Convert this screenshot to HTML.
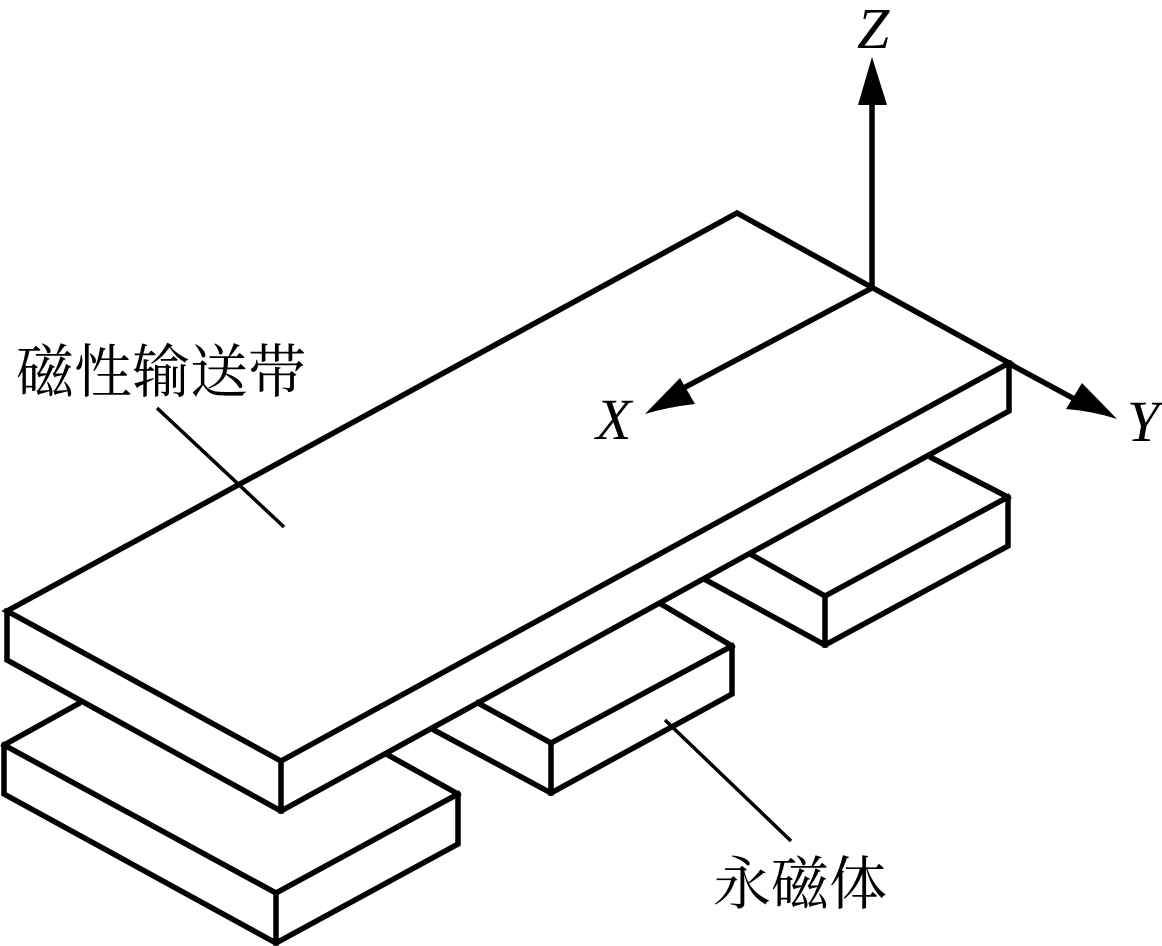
<!DOCTYPE html>
<html>
<head>
<meta charset="utf-8">
<style>
html,body{margin:0;padding:0;background:#fff;}
svg{display:block;}
</style>
</head>
<body>
<svg width="1162" height="946" viewBox="0 0 1162 946" xmlns="http://www.w3.org/2000/svg">
<g fill="none" stroke="#000" stroke-width="5.5" stroke-linejoin="miter" stroke-linecap="square">
<!-- belt -->
<path d="M7 611 L737 213 L1009 363 L281 761 Z"/>
<path d="M7 611 V660 L281 811 L1009 411 V363"/>
<path d="M281 761 V811"/>
<!-- magnet left -->
<path d="M78 704 L4 745 V794 L276 943 L458 844 V794 L388 755"/>
<path d="M4 745 L276 893 L458 794"/>
<path d="M276 893 V943"/>
<!-- magnet middle -->
<path d="M661 604 L732 646 V694 L551 793 L432 729"/>
<path d="M478 703 L551 743 L732 646"/>
<path d="M551 743 V793"/>
<!-- magnet right -->
<path d="M932 458 L1008 497 V546 L825 645 L706 580"/>
<path d="M752 555 L825 596 L1008 497"/>
<path d="M825 596 V645"/>
</g>
<g fill="none" stroke="#000" stroke-width="5.5">
<path d="M872 288 V100"/>
<path d="M872 288 L676 392"/>
<path d="M1008 363 L1080 402"/>
</g>
<g fill="#000" stroke="none">
<path d="M872 57 L887 105 H858 Z"/>
<path d="M645 414 L680 378 L695 404 Q668 407 645 414 Z"/>
<path d="M1117 419 Q1092 411 1066 409 L1082 383 Z"/>
</g>
<g fill="none" stroke="#000" stroke-width="3.5">
<path d="M157 408 L284 527"/>
<path d="M665 720 L791 841"/>
</g>
<g font-family="'Liberation Serif',serif" font-style="italic" font-size="58" fill="#000">
<text x="857" y="48">Z</text>
<text x="596" y="439">X</text>
<text x="1127" y="441">Y</text>
</g>
<g font-family="'Liberation Serif','Noto Serif CJK SC',serif" font-size="58" fill="#000">
<text x="16" y="392">磁性输送带</text>
<text x="713" y="904">永磁体</text>
</g>
</svg>
</body>
</html>
